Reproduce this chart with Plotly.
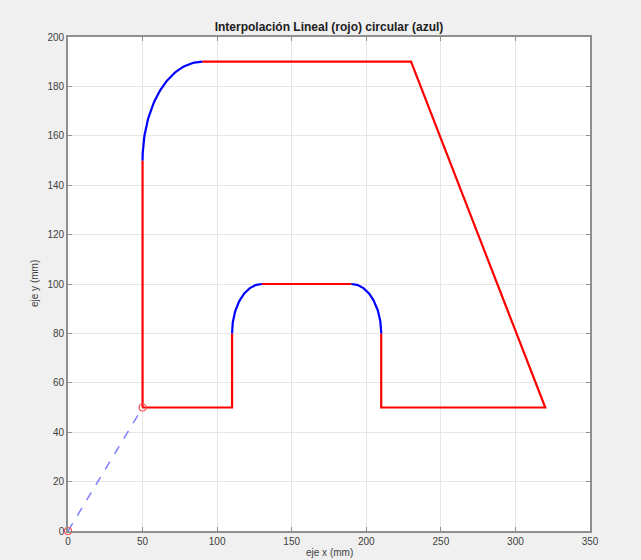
import numpy as np
import plotly.graph_objects as go

# Approach (dashed) segment
approach_x = [0, 50]
approach_y = [0, 50]

# Linear (red) segments: list of polylines
lin_x = [[50, 110, 110], [130, 190], [210, 210, 320, 230, 90], [50, 50]]
lin_y = [[50, 50, 80], [100, 100], [80, 50, 50, 190, 190], [150, 50]]

# Circular (blue) arcs: center x, center y, radius, start angle, end angle (deg)
arc_cx = [130, 190, 90]
arc_cy = [80, 80, 150]
arc_r = [20, 20, 40]
arc_a0 = [180, 90, 90]
arc_a1 = [90, 0, 180]

# Marker points
mark_x = [0, 50]
mark_y = [0, 50]

x_ticks = [0, 50, 100, 150, 200, 250, 300, 350]
y_ticks = [0, 20, 40, 60, 80, 100, 120, 140, 160, 180, 200]

FONT = "Liberation Sans, Arial"
W, H = 641, 560
L, R, T, B = 68, 51, 37, 29

fig = go.Figure()
fig.add_trace(go.Scatter(x=approach_x, y=approach_y, mode="lines",
                         line=dict(color="#7f7fff", width=1.5, dash="dash"), showlegend=False))
for xs, ys in zip(lin_x, lin_y):
    fig.add_trace(go.Scatter(x=xs, y=ys, mode="lines",
                             line=dict(color="#ff0000", width=2.2), showlegend=False))
for cx, cy, r, a0, a1 in zip(arc_cx, arc_cy, arc_r, arc_a0, arc_a1):
    t = np.radians(np.linspace(a0, a1, 60))
    fig.add_trace(go.Scatter(x=cx + r * np.cos(t), y=cy + r * np.sin(t), mode="lines",
                             line=dict(color="#0000ff", width=2.2), showlegend=False))
fig.add_trace(go.Scatter(x=mark_x, y=mark_y, mode="markers",
                         marker=dict(symbol="circle-open", size=7, color="#ff5050", line=dict(width=1.2)),
                         showlegend=False, cliponaxis=False))

axis_common = dict(showline=True, linecolor="#8f8f8f", linewidth=1.6, mirror="ticks",
                   ticks="inside", ticklen=4, tickcolor="#8f8f8f",
                   showgrid=True, gridcolor="#e6e6e6", gridwidth=1, zeroline=False,
                   tickfont=dict(family=FONT, size=10, color="#404040"),
                   automargin=False, fixedrange=True)

fig.update_layout(
    width=W, height=H,
    margin=dict(l=L, r=R, t=T, b=B),
    paper_bgcolor="#f0f0f0", plot_bgcolor="#ffffff",
    title=dict(text="<b>Interpolación Lineal (rojo) circular (azul)</b>",
               x=(L + (W - R)) / 2 / W, xanchor="center", y=1 - 27 / H, yanchor="middle",
               font=dict(family=FONT, size=12, color="#202020")),
    xaxis=dict(range=[0, 350], tickvals=x_ticks, **axis_common),
    yaxis=dict(range=[0, 200], tickvals=y_ticks, **axis_common),
    annotations=[
        dict(text="eje x (mm)", xref="paper", yref="paper", x=0.5, y=-21 / (H - T - B),
             xanchor="center", yanchor="middle", showarrow=False,
             font=dict(family=FONT, size=10, color="#404040")),
        dict(text="eje y (mm)", xref="paper", yref="paper", x=-34 / (W - L - R), y=0.5,
             xanchor="center", yanchor="middle", textangle=-90, showarrow=False,
             font=dict(family=FONT, size=10, color="#404040")),
    ],
)

fig.write_html("out.html")
